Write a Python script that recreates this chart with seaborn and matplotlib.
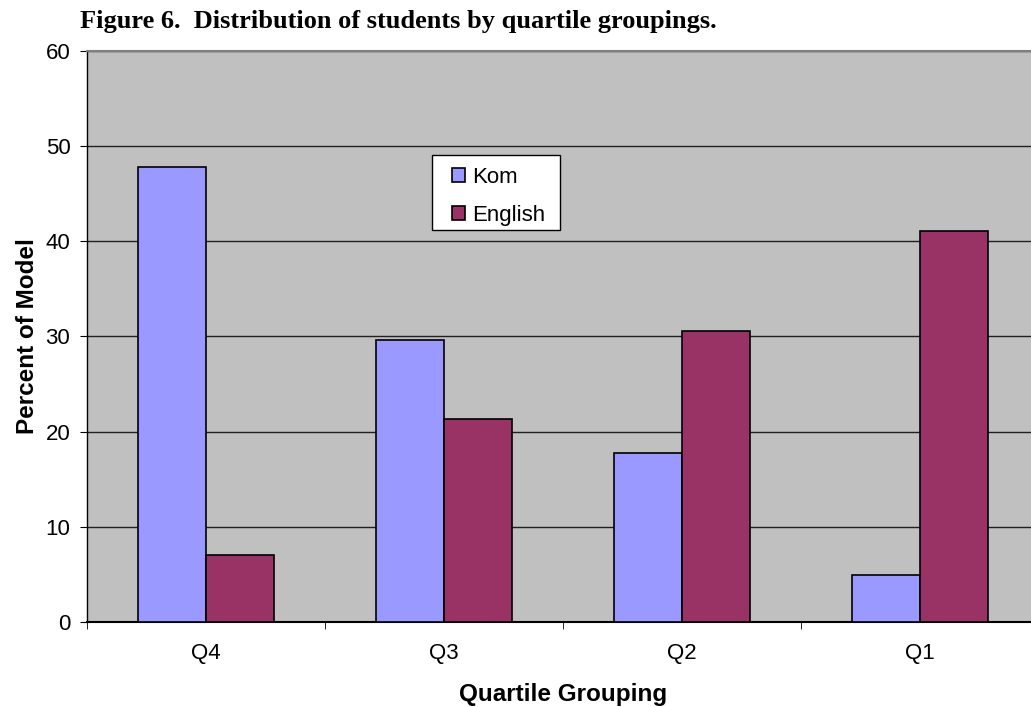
import numpy as np
import pandas as pd
import matplotlib
matplotlib.use("Agg")
import matplotlib.pyplot as plt
from matplotlib.patches import Rectangle
import seaborn as sns

# Dane
kwartyle = ["Q4", "Q3", "Q2", "Q1"]
kom = [47.8, 29.6, 17.8, 4.9]
english = [7.0, 21.3, 30.6, 41.1]
serie = ["Kom", "English"]
kolory = ["#9999FF", "#993366"]
y_ticki = [0, 10, 20, 30, 40, 50, 60]

df = pd.DataFrame({
    "Quartile": kwartyle * 2,
    "Group": [serie[0]] * len(kwartyle) + [serie[1]] * len(kwartyle),
    "Percent": kom + english,
})

sns.set_style("white")
plt.rcParams["font.family"] = ["Liberation Sans", "DejaVu Sans"]
plt.rcParams["text.color"] = "black"
plt.rcParams["axes.labelcolor"] = "black"
plt.rcParams["xtick.color"] = "black"
plt.rcParams["ytick.color"] = "black"

fig = plt.figure(figsize=(10.31, 7.07), dpi=100)
ax = fig.add_axes([0.0844, 0.1202, 0.9234, 0.8077])
ax.set_facecolor("#C0C0C0")

sns.barplot(data=df, x="Quartile", y="Percent", hue="Group", order=kwartyle,
            hue_order=serie, palette=kolory, width=0.57, gap=0,
            edgecolor="black", linewidth=1.2, saturation=1, ax=ax, zorder=3)

ax.set_ylim(0, 60)
ax.set_xlim(-0.5, len(kwartyle) - 0.5)
ax.set_yticks(y_ticki)
ax.yaxis.grid(True, color="#202020", linewidth=1, zorder=1)
ax.set_axisbelow(True)

# ticki na granicach kategorii
ax.set_xticks(np.arange(len(kwartyle)))
ax.set_xticklabels(kwartyle)
ax.set_xticks(np.arange(len(kwartyle) + 1) - 0.5, minor=True)
ax.tick_params(axis="x", which="major", length=0, pad=15, labelsize=16)
ax.tick_params(axis="x", which="minor", length=5, direction="out", color="black")
ax.tick_params(axis="y", length=5, direction="out", color="black", labelsize=16, pad=7)
ax.tick_params(left=True, bottom=True, which="both")

ax.spines["right"].set_visible(False)
ax.spines["top"].set_color("#808080")
ax.spines["top"].set_linewidth(1.5)
ax.spines["left"].set_color("black")
ax.spines["bottom"].set_color("black")
ax.spines["left"].set_linewidth(1)
ax.spines["bottom"].set_linewidth(1.5)

ax.set_xlabel("Quartile Grouping", fontsize=17.5, fontweight="bold", labelpad=14)
ax.set_ylabel("Percent of Model", fontsize=17.5, fontweight="bold", labelpad=5)

# legenda bez ramki + osobny prostokat jako ramka
leg = ax.legend(loc="upper left", bbox_to_anchor=(441 / 1031, 1 - 156 / 707),
                bbox_transform=fig.transFigure, frameon=False, fontsize=16,
                handlelength=0.6, handleheight=0.6, handletextpad=0.32,
                labelspacing=0.75, borderpad=0, title=None)
for h in leg.legend_handles:
    h.set_edgecolor("black")
    h.set_linewidth(1.2)
leg.set_zorder(6)
ramka = Rectangle((432 / 1031, 1 - 230 / 707), 128 / 1031, 75 / 707,
                  transform=fig.transFigure, facecolor="white",
                  edgecolor="black", linewidth=1, zorder=5, clip_on=False)
ax.add_patch(ramka)

fig.text(80 / 1031, 1 - 28 / 707, "Figure 6.  Distribution of students by quartile groupings.",
         fontsize=19, fontweight="bold", family=["Liberation Serif", "DejaVu Serif"],
         va="baseline", ha="left")

fig.savefig("out.png", dpi=100)
